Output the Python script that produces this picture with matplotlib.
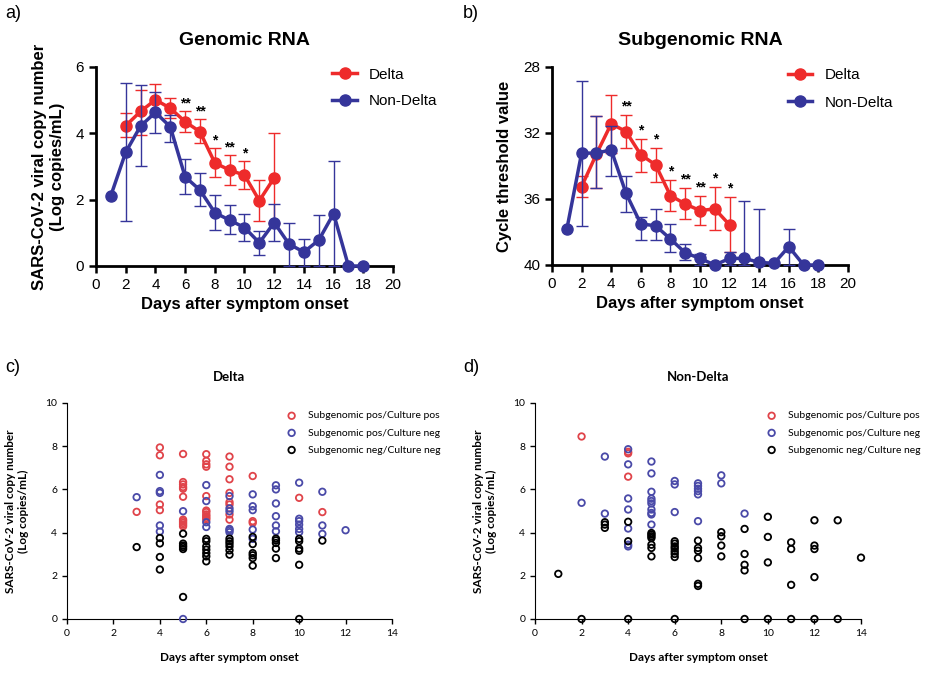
import matplotlib
matplotlib.use("Agg")
import matplotlib.pyplot as plt
import numpy as np

plt.rcParams['font.family'] = ['Liberation Sans', 'DejaVu Sans']

RED = '#ee2b2b'
BLUE = '#35359a'
SRED = '#e0444a'
SBLUE = '#4a4aa8'

# ---- panel a: genomic RNA (log copies/mL) ----
gen_delta_days = [2, 3, 4, 5, 6, 7, 8, 9, 10, 11, 12]
gen_delta = [4.23, 4.66, 5.01, 4.76, 4.35, 4.05, 3.11, 2.89, 2.74, 1.97, 2.66]
gen_delta_hi = [4.60, 5.31, 5.48, 5.06, 4.66, 4.43, 3.55, 3.34, 3.17, 2.59, 4.02]
gen_delta_lo = [3.90, 3.95, 4.55, 4.46, 4.05, 3.70, 2.67, 2.44, 2.32, 1.36, 1.30]

gen_non_days = list(range(1, 19))
gen_non = [2.12, 3.43, 4.22, 4.63, 4.20, 2.69, 2.29, 1.61, 1.38, 1.16, 0.70,
           1.31, 0.66, 0.42, 0.78, 1.58, 0, 0]
gen_non_hi = [np.nan, 5.53, 5.46, 5.24, 4.55, 3.22, 2.79, 2.13, 1.83, 1.56, 1.06,
              1.86, 1.30, 0.80, 1.53, 3.18, np.nan, np.nan]
gen_non_lo = [np.nan, 1.35, 3.01, 4.02, 3.75, 2.17, 1.80, 1.08, 0.95, 0.76, 0.32,
              0.76, 0, 0, 0, 0, np.nan, np.nan]

stars_a_days = [6, 7, 8, 9, 10]
stars_a = ['**', '**', '*', '**', '*']

# ---- panel b: subgenomic RNA (Ct) ----
sub_delta_days = [2, 3, 4, 5, 6, 7, 8, 9, 10, 11, 12]
sub_delta = [35.25, 33.28, 31.44, 31.91, 33.32, 33.93, 35.79, 36.30, 36.70, 36.60, 37.57]
sub_delta_up = [34.6, 30.96, 29.68, 30.91, 32.37, 32.88, 34.84, 35.35, 35.81, 35.29, 35.89]
sub_delta_dn = [35.9, 35.31, 33.2, 32.92, 34.34, 34.94, 36.72, 37.23, 37.57, 37.88, 39.19]

sub_non_days = list(range(1, 19))
sub_non = [37.84, 33.22, 33.22, 33.02, 35.65, 37.51, 37.62, 38.42, 39.26, 39.60, 40.0,
           39.60, 39.60, 39.84, 39.90, 38.89, 40.0, 40.0]
sub_non_up = [np.nan, 28.87, 30.96, 31.6, 34.6, 37.1, 36.6, 37.5, 38.7, 39.36, np.nan,
              39.2, 36.1, 36.6, np.nan, 37.8, np.nan, np.nan]
sub_non_dn = [np.nan, 37.62, 35.31, 34.6, 36.8, 38.5, 38.5, 39.2, 39.7, 40.0, np.nan,
              40.0, 40.0, 40.0, np.nan, 40.0, np.nan, np.nan]

stars_b_days = [5, 6, 7, 8, 9, 10, 11, 12]
stars_b = ['**', '*', '*', '*', '**', '**', '*', '*']

# ---- panel c: Delta scatter (day -> values) ----
c_pospos = {3: [4.96], 4: [7.94, 7.58, 5.30, 5.04],
            5: [7.64, 6.34, 6.23, 6.11, 6.03, 5.66, 4.60, 4.53, 4.45, 4.37, 4.29],
            6: [7.63, 7.32, 7.16, 7.05, 5.69, 5.02, 4.95, 4.84, 4.76, 4.68, 4.60],
            7: [7.52, 7.05, 6.47, 5.84, 5.41, 5.30, 4.84, 4.60],
            8: [6.62, 4.53, 4.45], 10: [5.61], 11: [4.95]}
c_posneg = {3: [5.64], 4: [6.67, 5.92, 5.84, 4.33, 4.05], 5: [4.99, 0],
            6: [6.20, 5.46, 4.48, 4.26], 7: [5.69, 5.12, 4.99, 4.17, 4.11, 4.02],
            8: [5.77, 5.22, 5.04, 4.14, 3.71], 9: [6.19, 6.00, 5.35, 4.76, 4.33, 4.06],
            10: [6.31, 4.64, 4.53, 4.37, 4.17, 4.02], 11: [5.89, 4.33, 3.94], 12: [4.11]}
c_negneg = {3: [3.33], 4: [3.75, 3.50, 2.87, 2.29],
            5: [3.95, 3.49, 3.40, 3.33, 3.24, 1.02],
            6: [3.71, 3.60, 3.36, 3.21, 3.05, 2.90, 2.67],
            7: [3.72, 3.60, 3.49, 3.36, 3.18, 2.98],
            8: [3.80, 3.47, 3.05, 2.95, 2.82, 2.47],
            9: [3.72, 3.64, 3.52, 3.26, 2.82],
            10: [3.71, 3.60, 3.26, 3.16, 2.51, 0], 11: [3.63]}

# ---- panel d: Non-Delta scatter ----
d_pospos = {2: [8.45], 4: [7.74, 7.67, 6.59]}
d_posneg = {2: [5.38], 3: [7.52, 4.88], 4: [7.86, 7.16, 5.58, 5.07, 4.19, 3.44, 3.36],
            5: [7.29, 6.74, 5.89, 5.57, 5.46, 5.35, 5.07, 4.91, 4.84, 4.37],
            6: [6.39, 6.23, 4.95], 7: [6.28, 6.16, 6.03, 5.92, 5.77, 4.53],
            8: [6.65, 6.28], 9: [4.88]}
d_negneg = {1: [2.09], 2: [0], 3: [4.48, 4.37, 4.22], 4: [4.50, 3.60, 0],
            5: [3.98, 3.91, 3.83, 3.75, 3.44, 3.29, 2.90],
            6: [3.60, 3.49, 3.36, 3.26, 3.13, 3.01, 2.87, 0],
            7: [3.63, 3.29, 3.16, 2.82, 1.63, 1.53], 8: [4.02, 3.83, 3.40, 2.90],
            9: [4.17, 3.01, 2.51, 2.25, 0], 10: [4.73, 3.80, 2.62, 0],
            11: [3.55, 3.24, 1.58, 0], 12: [4.57, 3.40, 3.24, 1.94, 0],
            13: [4.57, 0], 14: [2.84]}

W, H = 936, 673
fig = plt.figure(figsize=(W / 100, H / 100), dpi=100)


def add_ax(left, top, right, bottom):
    return fig.add_axes([left / W, 1 - bottom / H, (right - left) / W, (bottom - top) / H])


def err_series(ax, x, y, a, b, color, z):
    x = np.array(x, float)
    y = np.array(y, float)
    a = np.array(a, float)
    b = np.array(b, float)
    m = np.isfinite(a)
    lo = np.minimum(a[m], b[m])
    hi = np.maximum(a[m], b[m])
    yerr = np.vstack([y[m] - lo, hi - y[m]])
    ax.errorbar(x[m], y[m], yerr=yerr, fmt='none', ecolor=color, elinewidth=1,
                capsize=4, capthick=1, zorder=z, clip_on=False)


def line_panel(ax):
    for s in ['top', 'right']:
        ax.spines[s].set_visible(False)
    for s in ['left', 'bottom']:
        ax.spines[s].set_linewidth(2)
    ax.tick_params(width=1.8, length=5, labelsize=11)
    ax.set_xlim(0, 20)
    ax.set_xticks(range(0, 21, 2))
    ax.set_xlabel('Days after symptom onset', fontsize=12, fontweight='bold')


# panel a
ax = add_ax(96, 67, 393, 266)
err_series(ax, gen_delta_days, gen_delta, gen_delta_hi, gen_delta_lo, RED, 2)
ax.plot(gen_delta_days, gen_delta, '-o', color=RED, lw=2.5, ms=8, zorder=3,
        clip_on=False, label='Delta')
err_series(ax, gen_non_days, gen_non, gen_non_hi, gen_non_lo, BLUE, 4)
ax.plot(gen_non_days, gen_non, '-o', color=BLUE, lw=2.5, ms=8, zorder=5,
        clip_on=False, label='Non-Delta')
for d, s in zip(stars_a_days, stars_a):
    ax.text(d, gen_delta_hi[gen_delta_days.index(d)] + 0.02, s, ha='center',
            va='bottom', fontsize=10, fontweight='bold')
line_panel(ax)
ax.set_ylim(0, 6)
ax.set_yticks([0, 2, 4, 6])
ax.set_ylabel('SARS-CoV-2 viral copy number\n(Log copies/mL)', fontsize=12,
              fontweight='bold', labelpad=8)
ax.set_title('Genomic RNA', fontsize=14, fontweight='bold', pad=16)
ax.legend(loc='upper left', bbox_to_anchor=(0.75, 1.065), frameon=False,
          fontsize=11, handlelength=1.6, labelspacing=0.8)

# panel b
ax = add_ax(552, 67, 848, 265)
err_series(ax, sub_delta_days, sub_delta, sub_delta_up, sub_delta_dn, RED, 2)
ax.plot(sub_delta_days, sub_delta, '-o', color=RED, lw=2.5, ms=8, zorder=3,
        clip_on=False, label='Delta')
err_series(ax, sub_non_days, sub_non, sub_non_up, sub_non_dn, BLUE, 4)
ax.plot(sub_non_days, sub_non, '-o', color=BLUE, lw=2.5, ms=8, zorder=5,
        clip_on=False, label='Non-Delta')
for d, s in zip(stars_b_days, stars_b):
    ax.text(d, sub_delta_up[sub_delta_days.index(d)] - 0.08, s, ha='center',
            va='bottom', fontsize=10, fontweight='bold')
line_panel(ax)
ax.set_ylim(40, 28)
ax.set_yticks([28, 32, 36, 40])
ax.set_ylabel('Cycle threshold value', fontsize=12, fontweight='bold', labelpad=8)
ax.set_title('Subgenomic RNA', fontsize=14, fontweight='bold', pad=16)
ax.legend(loc='upper left', bbox_to_anchor=(0.75, 1.065), frameon=False,
          fontsize=11, handlelength=1.6, labelspacing=0.9)


def scatter_panel(ax, groups, title, legend_x):
    labels = ['Subgenomic pos/Culture pos', 'Subgenomic pos/Culture neg',
              'Subgenomic neg/Culture neg']
    colors = [SRED, SBLUE, 'black']
    for g, c, lab in zip(groups, colors, labels):
        xs = [d for d, vals in g.items() for _ in vals]
        ys = [v for vals in g.values() for v in vals]
        ax.scatter(xs, ys, s=22, facecolors='none', edgecolors=c, linewidths=1.3,
                   clip_on=False, label=lab, zorder=3)
    for s in ['top', 'right']:
        ax.spines[s].set_visible(False)
    ax.set_xlim(0, 14)
    ax.set_ylim(0, 10)
    ax.set_xticks(range(0, 15, 2))
    ax.set_yticks(range(0, 11, 2))
    ax.tick_params(labelsize=7.5, length=3.5, width=1)
    for t in ax.get_xticklabels() + ax.get_yticklabels():
        t.set_family(['Lato', 'DejaVu Sans'])
    ax.set_xlabel('Days after symptom onset', fontsize=8.5, fontweight='bold',
                  family=['Lato', 'DejaVu Sans'], labelpad=10)
    ax.set_ylabel('SARS-CoV-2 viral copy number\n(Log copies/mL)', fontsize=8.5,
                  fontweight='bold', family=['Lato', 'DejaVu Sans'], labelpad=12)
    ax.set_title(title, fontsize=9.5, fontweight='bold',
                 family=['Lato', 'DejaVu Sans'], pad=16)
    ax.legend(loc='upper left', bbox_to_anchor=(legend_x / W, 1 - 406 / H),
              bbox_transform=fig.transFigure, frameon=False,
              prop={'family': ['Lato', 'DejaVu Sans'], 'size': 7.5},
              handletextpad=0.6, labelspacing=0.75, borderpad=0)


ax = add_ax(67, 403, 392, 619)
scatter_panel(ax, [c_pospos, c_posneg, c_negneg], 'Delta', 276)
ax = add_ax(535, 403, 861, 619)
scatter_panel(ax, [d_pospos, d_posneg, d_negneg], 'Non-Delta', 756)

for lab, x, y in [('a)', 5, 13), ('b)', 463, 13), ('c)', 5, 368), ('d)', 463, 368)]:
    fig.text(x / W, 1 - y / H, lab, fontsize=13, va='center', ha='left')

fig.savefig('out.png', dpi=100)
